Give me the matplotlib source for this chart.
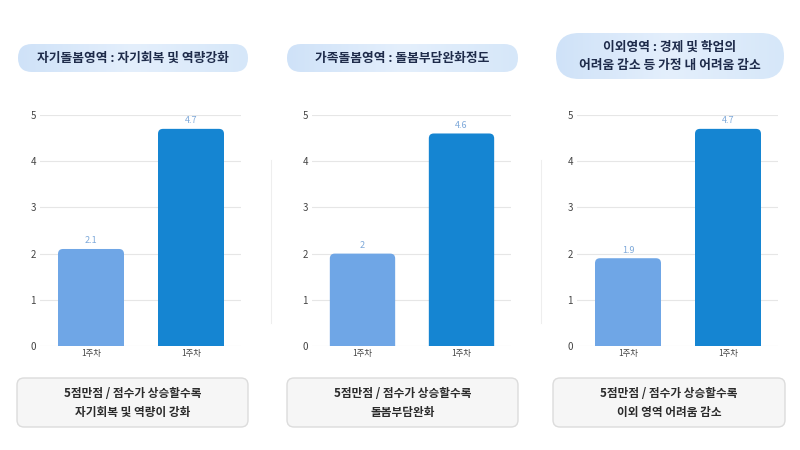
import numpy as np
import matplotlib
matplotlib.use('Agg')
import matplotlib.pyplot as plt
from matplotlib.patches import FancyBboxPatch
from matplotlib.colors import LinearSegmentedColormap

plt.rcParams['font.family'] = ['Noto Sans CJK KR', 'DejaVu Sans']

# Data
titles = ['자기돌봄영역 : 자기회복 및 역량강화',
          '가족돌봄영역 : 돌봄부담완화정도',
          '이외영역 : 경제 및 학업의\n어려움 감소 등 가정 내 어려움 감소']
notes = ['5점만점 / 점수가 상승할수록\n자기회복 및 역량이 강화',
         '5점만점 / 점수가 상승할수록\n돌봄부담완화',
         '5점만점 / 점수가 상승할수록\n이외 영역 어려움 감소']
week_labels = ['1주차', '1주차']
scores_before = [2.1, 2.0, 1.9]
scores_after = [4.7, 4.6, 4.7]
value_labels_before = ['2.1', '2', '1.9']
value_labels_after = ['4.7', '4.6', '4.7']

# Style
W, H = 800, 450
LIGHT_BAR = '#6FA6E6'
DARK_BAR = '#1585D2'
VALUE_COLOUR = '#7EA9DA'
TITLE_COLOUR = '#1E2B4A'
GRID_COLOUR = '#E6E6E6'
BOX_FACE = '#F6F6F6'
BOX_EDGE = '#DCDCDC'

# pixel layout of each panel: axes x-range, title pill, note box
axes_x = [(40, 241), (312, 511), (577, 778)]
pills = [(18, 44, 230, 28), (287, 44, 231, 28), (556, 33, 228, 46)]
boxes = [(17, 378, 231, 49), (287, 378, 231, 49), (553, 378, 232, 49)]
dividers = [271, 541]
AX_TOP, AX_BOTTOM = 115, 346
XLIM = (-0.51, 1.5)

fig = plt.figure(figsize=(8, 4.5), dpi=100)
fig.patch.set_facecolor('white')

# overlay in pixel coordinates for decorations
deco = fig.add_axes([0, 0, 1, 1])
deco.set_xlim(0, W)
deco.set_ylim(H, 0)
deco.axis('off')

grad_cmap = LinearSegmentedColormap.from_list(
    'pill', ['#CFE2F8', '#E4EFFC', '#D6E7F9'])

for i in range(3):
    # title pill with gradient
    px, py, pw, ph = pills[i]
    pill = FancyBboxPatch((px, py), pw, ph,
                          boxstyle=f'round,pad=0,rounding_size={ph / 2}',
                          facecolor='none', edgecolor='none')
    deco.add_patch(pill)
    grad = np.linspace(0, 1, 256).reshape(1, -1)
    im = deco.imshow(grad, extent=(px, px + pw, py + ph, py),
                     cmap=grad_cmap, aspect='auto', zorder=1)
    im.set_clip_path(pill)
    deco.text(px + pw / 2, py + ph / 2 + 0.5, titles[i],
              ha='center', va='center', fontsize=9.2, fontweight='bold',
              color=TITLE_COLOUR, linespacing=1.55, zorder=2)

    # note box
    bx, by, bw, bh = boxes[i]
    deco.add_patch(FancyBboxPatch((bx, by), bw, bh,
                                  boxstyle='round,pad=0,rounding_size=7',
                                  facecolor=BOX_FACE, edgecolor=BOX_EDGE,
                                  linewidth=1))
    deco.text(bx + bw / 2, by + bh / 2 + 0.5, notes[i],
              ha='center', va='center', fontsize=8.4, fontweight='bold',
              color='#2B2B2B', linespacing=1.6)

for x in dividers:
    deco.plot([x, x], [160, 323], color='#EEEEEE', linewidth=0.8)

# bar charts
for i in range(3):
    x0, x1 = axes_x[i]
    ax = fig.add_axes([x0 / W, 1 - AX_BOTTOM / H,
                       (x1 - x0) / W, (AX_BOTTOM - AX_TOP) / H])
    ax.set_facecolor('none')
    values = [scores_before[i], scores_after[i]]
    labels = [value_labels_before[i], value_labels_after[i]]
    bars = ax.bar([0, 1], values, width=0.66, color=[LIGHT_BAR, DARK_BAR])
    ax.set_xlim(*XLIM)
    ax.set_ylim(0, 5)
    # replace bars with rounded-top versions
    bbox = ax.get_window_extent(fig.canvas.get_renderer())
    aspect = (5 / bbox.height) / ((XLIM[1] - XLIM[0]) / bbox.width)
    for bar in bars:
        bx, bw, bh = bar.get_x(), bar.get_width(), bar.get_height()
        bar.set_visible(False)
        ax.add_patch(FancyBboxPatch((bx, -0.3), bw, bh + 0.3,
                                    boxstyle='round,pad=0,rounding_size=0.05',
                                    mutation_aspect=aspect,
                                    facecolor=bar.get_facecolor(),
                                    edgecolor='none', zorder=3))
    for xi, v, lab in zip([0, 1], values, labels):
        ax.text(xi, v + 0.08, lab, ha='center', va='bottom',
                fontsize=6.5, color=VALUE_COLOUR)
    ax.set_yticks(range(6))
    ax.set_xticks([0, 1])
    ax.set_xticklabels(week_labels)
    ax.yaxis.grid(True, color=GRID_COLOUR, linewidth=0.8)
    ax.set_axisbelow(True)
    for s in ax.spines.values():
        s.set_visible(False)
    ax.tick_params(axis='y', length=0, labelsize=7, labelcolor='#444444', pad=3)
    ax.tick_params(axis='x', length=0, labelsize=6, labelcolor='#444444', pad=2)

fig.savefig('out.png', dpi=100, facecolor='white')
